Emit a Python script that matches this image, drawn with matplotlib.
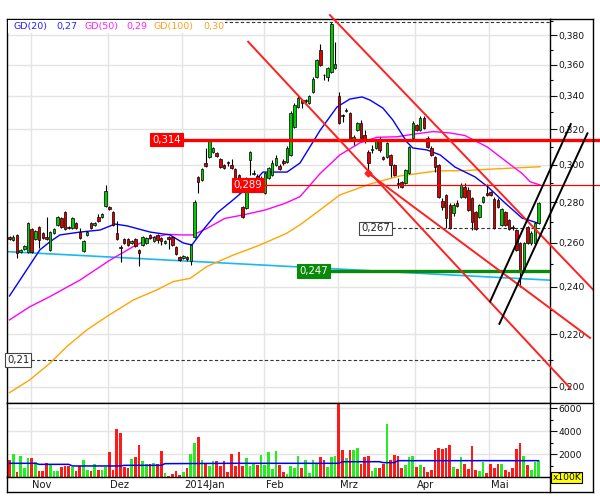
import numpy as np
import matplotlib
matplotlib.use("Agg")
import matplotlib.pyplot as plt
from matplotlib.patches import Rectangle
from matplotlib.lines import Line2D
import matplotlib.transforms as mtransforms
from matplotlib.ticker import FixedLocator, NullFormatter, FuncFormatter

plt.rcParams['font.family'] = ['DejaVu Sans']

# ---------------- data ----------------
opens = [0.2628, 0.2614, 0.2638, 0.2558, 0.2572, 0.2558, 0.2667, 0.2619, 0.2677, 0.2648,
         0.2628, 0.2567, 0.2648, 0.2687, 0.2721, 0.2751, 0.2677, 0.2672, 0.2696, 0.2652,
         0.2562, 0.2638, 0.2696, 0.2687, 0.2726, 0.2726, 0.2781, 0.2776, 0.2751, 0.2648,
         0.2581, 0.2619, 0.2619, 0.2600, 0.2619, 0.2567, 0.2590, 0.2600, 0.2638, 0.2609,
         0.2638, 0.2624, 0.2600, 0.2628, 0.2628, 0.2581, 0.2534, 0.2530, 0.2534, 0.2516,
         0.2628, 0.2933, 0.2917, 0.3008, 0.3042, 0.3070, 0.3064, 0.3031, 0.2997, 0.3014,
         0.2997, 0.2976, 0.2943, 0.2776, 0.2771, 0.3025, 0.2949, 0.2938, 0.2906, 0.2848,
         0.2927, 0.2943, 0.2997, 0.2992, 0.3019, 0.3014, 0.3053, 0.3213, 0.3332, 0.3375,
         0.3369, 0.3357, 0.3425, 0.3520, 0.3697, 0.3533, 0.3520, 0.3552, 0.3578, 0.3400,
         0.3284, 0.3308, 0.3296, 0.3137, 0.3195, 0.3236, 0.3166, 0.3070, 0.3081, 0.3092,
         0.3143, 0.3042, 0.3042, 0.3053, 0.2997, 0.2901, 0.2906, 0.2901, 0.2954, 0.3149,
         0.3224, 0.3195, 0.3266, 0.3149, 0.3092, 0.3042, 0.2997, 0.2807, 0.2838, 0.2786,
         0.2746, 0.2797, 0.2828, 0.2880, 0.2864, 0.2822, 0.2751, 0.2726, 0.2802, 0.2848,
         0.2853, 0.2817, 0.2812, 0.2687, 0.2751, 0.2711, 0.2677, 0.2662, 0.2600, 0.2475,
         0.2677, 0.2600, 0.2600, 0.2696]
highs = [0.2633, 0.2638, 0.2643, 0.2572, 0.2590, 0.2701, 0.2672, 0.2662, 0.2682, 0.2652,
         0.2726, 0.2657, 0.2672, 0.2731, 0.2726, 0.2756, 0.2682, 0.2726, 0.2701, 0.2672,
         0.2614, 0.2657, 0.2701, 0.2701, 0.2741, 0.2746, 0.2890, 0.2781, 0.2756, 0.2706,
         0.2590, 0.2624, 0.2624, 0.2614, 0.2624, 0.2572, 0.2633, 0.2628, 0.2643, 0.2633,
         0.2643, 0.2628, 0.2614, 0.2633, 0.2633, 0.2586, 0.2539, 0.2543, 0.2539, 0.2595,
         0.2812, 0.2938, 0.2981, 0.3092, 0.3137, 0.3098, 0.3070, 0.3036, 0.3003, 0.3019,
         0.3031, 0.2981, 0.2949, 0.2781, 0.2933, 0.3075, 0.2970, 0.2949, 0.2938, 0.2959,
         0.2986, 0.3025, 0.3053, 0.3003, 0.3031, 0.3103, 0.3308, 0.3357, 0.3400, 0.3381,
         0.3381, 0.3406, 0.3520, 0.3637, 0.3738, 0.3539, 0.3585, 0.3891, 0.3752, 0.3425,
         0.3290, 0.3326, 0.3302, 0.3166, 0.3242, 0.3254, 0.3195, 0.3081, 0.3109, 0.3143,
         0.3155, 0.3047, 0.3126, 0.3059, 0.3003, 0.2927, 0.2911, 0.2976, 0.3103, 0.3248,
         0.3230, 0.3278, 0.3278, 0.3160, 0.3103, 0.3047, 0.3003, 0.2822, 0.2843, 0.2797,
         0.2797, 0.2812, 0.2901, 0.2901, 0.2880, 0.2828, 0.2756, 0.2792, 0.2833, 0.2895,
         0.2859, 0.2828, 0.2822, 0.2771, 0.2756, 0.2716, 0.2687, 0.2667, 0.2605, 0.2605,
         0.2682, 0.2657, 0.2701, 0.2802]
lows = [0.2614, 0.2609, 0.2530, 0.2553, 0.2567, 0.2553, 0.2553, 0.2614, 0.2576, 0.2619,
        0.2614, 0.2562, 0.2643, 0.2682, 0.2672, 0.2662, 0.2667, 0.2667, 0.2667, 0.2619,
        0.2558, 0.2633, 0.2667, 0.2682, 0.2701, 0.2721, 0.2776, 0.2761, 0.2682, 0.2614,
        0.2511, 0.2595, 0.2586, 0.2595, 0.2581, 0.2493, 0.2586, 0.2595, 0.2619, 0.2605,
        0.2600, 0.2590, 0.2595, 0.2572, 0.2586, 0.2543, 0.2516, 0.2525, 0.2516, 0.2497,
        0.2624, 0.2848, 0.2911, 0.2986, 0.3036, 0.3064, 0.3042, 0.2981, 0.2976, 0.2992,
        0.2976, 0.2885, 0.2848, 0.2721, 0.2766, 0.2943, 0.2943, 0.2895, 0.2885, 0.2843,
        0.2922, 0.2938, 0.2992, 0.2970, 0.2997, 0.3008, 0.3047, 0.3207, 0.3326, 0.3326,
        0.3357, 0.3350, 0.3418, 0.3513, 0.3591, 0.3500, 0.3494, 0.3546, 0.3571, 0.3230,
        0.3242, 0.3302, 0.3137, 0.3109, 0.3189, 0.3143, 0.3120, 0.2954, 0.3064, 0.3086,
        0.3070, 0.3025, 0.3036, 0.2933, 0.2938, 0.2874, 0.2874, 0.2895, 0.2949, 0.3143,
        0.3189, 0.3189, 0.3201, 0.3092, 0.3047, 0.2959, 0.2822, 0.2761, 0.2672, 0.2667,
        0.2731, 0.2776, 0.2822, 0.2822, 0.2756, 0.2662, 0.2662, 0.2721, 0.2797, 0.2833,
        0.2833, 0.2667, 0.2771, 0.2682, 0.2682, 0.2662, 0.2662, 0.2562, 0.2399, 0.2466,
        0.2595, 0.2590, 0.2595, 0.2691]
closes = [0.2619, 0.2628, 0.2553, 0.2567, 0.2586, 0.2696, 0.2558, 0.2657, 0.2614, 0.2624,
          0.2619, 0.2652, 0.2667, 0.2726, 0.2677, 0.2667, 0.2672, 0.2721, 0.2672, 0.2624,
          0.2609, 0.2652, 0.2672, 0.2696, 0.2706, 0.2741, 0.2859, 0.2766, 0.2687, 0.2619,
          0.2576, 0.2600, 0.2590, 0.2609, 0.2586, 0.2553, 0.2628, 0.2624, 0.2624, 0.2628,
          0.2614, 0.2609, 0.2609, 0.2619, 0.2590, 0.2548, 0.2520, 0.2539, 0.2525, 0.2590,
          0.2802, 0.2906, 0.2976, 0.2992, 0.3132, 0.3092, 0.3047, 0.2986, 0.2981, 0.3008,
          0.2981, 0.2890, 0.2853, 0.2726, 0.2927, 0.3070, 0.2954, 0.2917, 0.2927, 0.2954,
          0.2981, 0.3008, 0.3036, 0.2976, 0.3008, 0.3092, 0.3296, 0.3344, 0.3388, 0.3357,
          0.3375, 0.3400, 0.3507, 0.3631, 0.3598, 0.3530, 0.3578, 0.3880, 0.3604, 0.3236,
          0.3278, 0.3314, 0.3143, 0.3155, 0.3236, 0.3149, 0.3137, 0.3008, 0.3086, 0.3137,
          0.3081, 0.3031, 0.3120, 0.2997, 0.2943, 0.2895, 0.2880, 0.2970, 0.3098, 0.3236,
          0.3195, 0.3266, 0.3207, 0.3098, 0.3053, 0.2986, 0.2828, 0.2776, 0.2721, 0.2672,
          0.2786, 0.2781, 0.2890, 0.2828, 0.2761, 0.2701, 0.2667, 0.2786, 0.2828, 0.2838,
          0.2838, 0.2672, 0.2776, 0.2766, 0.2687, 0.2667, 0.2672, 0.2567, 0.2466, 0.2600,
          0.2600, 0.2648, 0.2696, 0.2797]
volume = [1480, 2000, 460, 1830, 810, 1650, 1650, 1300, 520, 520,
          1220, 1100, 520, 520, 900, 990, 930, 900, 520, 960,
          1480, 610, 520, 1130, 610, 610, 900, 2170, 610, 4180,
          3830, 900, 810, 1570, 1740, 2780, 1390, 1100, 1100, 1250,
          1100, 2260, 380, 120, 260, 520, 170, 430, 810, 2000,
          2960, 3480, 1480, 1190, 960, 1390, 1390, 960, 1390, 430,
          2000, 960, 2170, 960, 1650, 960, 1160, 1040, 1910, 1040,
          2170, 700, 2260, 1040, 430, 230, 960, 810, 1830,
          810, 1480, 350, 1480, 1100, 1770, 1480, 900, 1770, 1830,
          6500, 2350, 1680, 2350, 2350, 2550, 1130, 1770, 1830, 520, 810,
          810, 1130, 4630, 1480, 1910, 1830, 810, 1040, 1770, 1830,
          900, 1040, 900, 460, 610, 2350, 2550, 2440, 2490, 2780,
          900, 730, 1770, 1130, 730, 2700, 610, 520, 1330, 380,
          1130, 810, 1130, 1130, 610, 460, 810, 2440, 2960, 1830,
          1040, 610, 1300, 1420]

vol_ma_idx = [0, 7, 8, 16, 17, 30, 31, 41, 42, 60, 89, 90, 100, 101, 104, 105, 143]
vol_ma_val = [1190, 1190, 1100, 1100, 960, 960, 1015, 1015, 1160, 1190, 1190, 1330, 1330, 1250, 1250, 1420, 1420]

gd20_idx = [0, 5.5, 8.2, 10.9, 13.6, 19.1, 24.5, 28.5, 31.8, 38, 43.4, 46.9, 49.3, 52.3, 56.1,
            60.4, 65.8, 68.5, 75, 78.5, 84, 88.5, 92, 95.3, 97.4, 100.9, 103.6, 107.4, 109,
            112.8, 116.4, 120.4, 125.8, 129.3, 133.9, 138.5, 142.8]
gd20_val = [0.2360, 0.2497, 0.2567, 0.2605, 0.2638, 0.2652, 0.2662, 0.2691, 0.2682, 0.2652,
            0.2638, 0.2600, 0.2590, 0.2662, 0.2746, 0.2812, 0.2901, 0.2959, 0.2959, 0.3008,
            0.3195, 0.3332, 0.3381, 0.3394, 0.3375, 0.3326, 0.3254, 0.3126, 0.3092, 0.3081,
            0.3053, 0.2986, 0.2933, 0.2880, 0.2797, 0.2721, 0.2696]
gd50_idx = [0, 5.5, 10.9, 19.1, 27.2, 33.4, 38, 42.6, 46.9, 49.6, 53.4, 58.2, 63.1, 69.1,
            74.5, 78.5, 84, 89.3, 94.7, 99.3, 104.7, 109.6, 114.5, 119.1, 123.1, 129.1,
            136.1, 138.5, 140.7, 143.4]
gd50_val = [0.2259, 0.2314, 0.2357, 0.2430, 0.2520, 0.2582, 0.2622, 0.2641, 0.2638, 0.2638,
            0.2670, 0.2719, 0.2736, 0.2761, 0.2795, 0.2829, 0.2952, 0.3053, 0.3121, 0.3153,
            0.3156, 0.3172, 0.3186, 0.3178, 0.3163, 0.3098, 0.2988, 0.2952, 0.2907, 0.2890]
gd100_idx = [0, 5.5, 10.9, 15.5, 20.9, 26.3, 33.5, 39.8, 44.3, 48.8, 53.3, 60.5, 67.7, 74.9,
             78.5, 82.1, 89.3, 97.4, 105.5, 115.5, 123.1, 129.3, 143.4]
gd100_val = [0.1978, 0.2025, 0.2087, 0.2152, 0.2218, 0.2273, 0.2343, 0.2386, 0.2423, 0.2437,
             0.2490, 0.2543, 0.2590, 0.2646, 0.2687, 0.2736, 0.2838, 0.2895, 0.2938, 0.2965,
             0.2967, 0.2974, 0.2988]
cyan_idx = [-0.7, 146.1]
cyan_val = [0.2559, 0.2429]

red_trend = [((86.6, 0.3941), (157.7, 0.2388)),
             ((64.5, 0.3754), (151.5, 0.1995)),
             ((96.9, 0.2954), (156.9, 0.2186))]
black_trend = [((129.9, 0.2336), (151.7, 0.3230)),
               ((132.4, 0.2243), (156.2, 0.3176))]

months = ['Nov', 'Dez', '2014Jan', 'Feb', 'Mrz', 'Apr', 'Mai']
month_start = [6, 27, 47, 69, 89, 110, 130]

price_ticks = [0.20, 0.22, 0.24, 0.26, 0.28, 0.30, 0.32, 0.34, 0.36, 0.38]
price_minor = [0.21, 0.23, 0.25, 0.27, 0.29, 0.31, 0.33, 0.35, 0.37, 0.39]
vol_ticks = [2000, 4000, 6000]
vol_minor = [1000, 3000, 5000]

# ---------------- layout helpers ----------------
W, H = 600, 500
fig = plt.figure(figsize=(6, 5), dpi=100)
fig.patch.set_facecolor('white')


def fx(x):
    return x / W


def fy(y):
    return 1 - y / H


XL = (-0.676, 146.08)
ax = fig.add_axes([fx(7), fy(403), fx(550) - fx(7), (403 - 19) / H])
axv = fig.add_axes([fx(7), fy(477), fx(550) - fx(7), (477 - 403) / H])

n = len(closes)
idx = np.arange(n)
o = np.array(opens); c = np.array(closes); hi = np.array(highs); lo = np.array(lows)
up = c >= o

GRID = '#e4e4e4'
RED = '#ff2020'
TXT = '#222222'

# ---------------- price panel ----------------
ax.set_yscale('log')
ax.set_ylim(0.1941, 0.3913)
ax.set_xlim(*XL)
for t in price_ticks:
    ax.axhline(t, color=GRID, lw=1, zorder=0)
for m in month_start:
    ax.axvline(m - 0.3, color=GRID, lw=1, zorder=0)
    axv.axvline(m - 0.3, color=GRID, lw=1, zorder=0)

ax.plot(cyan_idx, cyan_val, color='#1ab8f0', lw=1.2, zorder=1)
ax.plot(gd100_idx, gd100_val, color='#ffa500', lw=1, zorder=2)
ax.plot(gd50_idx, gd50_val, color='#ff00ff', lw=1, zorder=2)
ax.plot(gd20_idx, gd20_val, color='#0000ff', lw=1, zorder=2)

ax.vlines(idx, lo, hi, color='black', lw=0.8, zorder=3)
body_lo = np.minimum(o, c)
body_h = np.maximum(np.abs(c - o), 0.0003)
ax.bar(idx, body_h, bottom=body_lo, width=0.7,
       color=np.where(up, '#00cc00', '#e00000'), edgecolor='black', lw=0.5, zorder=4)

# horizontal levels
ax.plot([XL[0], XL[1]], [0.389, 0.389], color='#333333', lw=0.8, ls=(0, (3, 2)), zorder=3)
ax.plot([5.8, XL[1]], [0.21, 0.21], color='#333333', lw=0.8, ls=(0, (3, 2)), zorder=3)
ax.plot([103.3, XL[1]], [0.267, 0.267], color='#333333', lw=0.8, ls=(0, (3, 2)), zorder=3)
ax.plot([86.6, XL[1]], [0.247, 0.247], color='#0a8a0a', lw=2.4, zorder=5)
ax.plot([46.8, 160], [0.314, 0.314], color='#ff0000', lw=2.4, zorder=5, clip_on=False)
ax.plot([68.8, 160], [0.289, 0.289], color='#ff0000', lw=0.9, zorder=5, clip_on=False)

for (a, b) in red_trend:
    ax.plot([a[0], b[0]], [a[1], b[1]], color=RED, lw=1.4, zorder=5, clip_on=False)
ax.plot([red_trend[2][0][0]], [red_trend[2][0][1]], marker='D', ms=3.5, color=RED,
        zorder=6, clip_on=False)
for (a, b) in black_trend:
    ax.plot([a[0], b[0]], [a[1], b[1]], color='black', lw=1.4, zorder=5, clip_on=False)


def level_label(x, y, s, fc, tc, ec):
    ax.text(x, y, s, ha='right', va='center', fontsize=7.3, color=tc, zorder=7,
            bbox=dict(boxstyle='square,pad=0.18', fc=fc, ec=ec, lw=0.8))


fmt3 = lambda v: f"{v:.3f}".replace('.', ',')
level_label(46.3, 0.314, fmt3(0.314), '#ff0000', 'white', '#ff0000')
level_label(68.3, 0.289, fmt3(0.289), '#ff0000', 'white', '#ff0000')
level_label(102.8, 0.267, fmt3(0.267), 'white', TXT, '#444444')
level_label(86.1, 0.247, fmt3(0.247), '#0a8a0a', 'white', '#0a8a0a')
level_label(5.4, 0.21, "0,21", 'white', TXT, '#444444')

ax.yaxis.set_major_locator(FixedLocator(price_ticks))
ax.yaxis.set_minor_locator(FixedLocator(price_minor))
ax.yaxis.set_major_formatter(FuncFormatter(lambda v, p: fmt3(v)))
ax.yaxis.set_minor_formatter(NullFormatter())
ax.yaxis.tick_right()
ax.tick_params(axis='y', which='major', length=4.8, width=0.8, pad=1.3, labelsize=6.6,
               colors='#111111')
ax.tick_params(axis='y', which='minor', length=2.4, width=0.8)
ax.tick_params(axis='x', which='both', bottom=False, labelbottom=False)
for s in ax.spines.values():
    s.set_color('black'); s.set_linewidth(1.0)

# ---------------- volume panel ----------------
axv.set_xlim(*XL)
axv.set_ylim(0, 6435)
for t in vol_ticks:
    axv.axhline(t, color=GRID, lw=1, zorder=0)
axv.bar(idx, volume, width=0.74, color=np.where(up, '#22ee22', '#ff1a1a'), lw=0, zorder=2)
axv.plot(vol_ma_idx, vol_ma_val, color='#0000ee', lw=1.1, zorder=3)
axv.yaxis.set_major_locator(FixedLocator(vol_ticks))
axv.yaxis.set_minor_locator(FixedLocator(vol_minor))
axv.yaxis.set_major_formatter(FuncFormatter(lambda v, p: f"{int(v)}"))
axv.yaxis.tick_right()
axv.tick_params(axis='y', which='major', length=4.8, width=0.8, pad=1.0, labelsize=6.6,
                colors='#111111')
axv.tick_params(axis='y', which='minor', length=2.4, width=0.8)
axv.tick_params(axis='x', which='both', bottom=False, labelbottom=False)
for s in axv.spines.values():
    s.set_color('black'); s.set_linewidth(1.0)

trans = mtransforms.blended_transform_factory(axv.transData, axv.transAxes)
for name, m in zip(months, month_start):
    axv.text(m + 0.2, -0.04, name, transform=trans, ha='left', va='top', fontsize=7.2,
             color='#1a1a1a', clip_on=False)

# ---------------- frame & legend ----------------
def fline(x0, y0, x1, y1):
    fig.add_artist(Line2D([fx(x0), fx(x1)], [fy(y0), fy(y1)], transform=fig.transFigure,
                          color='black', lw=1.0))


fline(593, 19, 593, 492)
fline(550, 19, 593, 19)
fline(550, 403, 593, 403)
fline(7, 492, 593, 492)
fline(7, 477, 7, 492)
fline(550, 477, 550, 492)

fig.add_artist(Rectangle((fx(7.6), fy(33)), fx(225) - fx(7.6), (33 - 19.6) / H,
                         transform=fig.transFigure, fc='white', ec='none', zorder=2))

items = [("GD(20)", 13, '#2424ff'), (f"{gd20_val[-1]:.2f}".replace('.', ','), 56, '#2424ff'),
         ("GD(50)", 84, '#ff22ff'), (f"{gd50_val[-1]:.2f}".replace('.', ','), 126, '#ff22ff'),
         ("GD(100)", 154, '#ffa020'), (f"{gd100_val[-1]:.2f}".replace('.', ','), 203, '#ffa020')]
for s, x, col in items:
    fig.text(fx(x), fy(27), s, color=col, fontsize=6.8, ha='left', va='center', zorder=3)

fig.text(fx(552.5), fy(477.3), "x100K", fontsize=6.6, ha='left', va='center', color='black',
         zorder=4, bbox=dict(boxstyle='square,pad=0.12', fc='#ffff00', ec='black', lw=0.8))

fig.savefig('out.png', dpi=100)
